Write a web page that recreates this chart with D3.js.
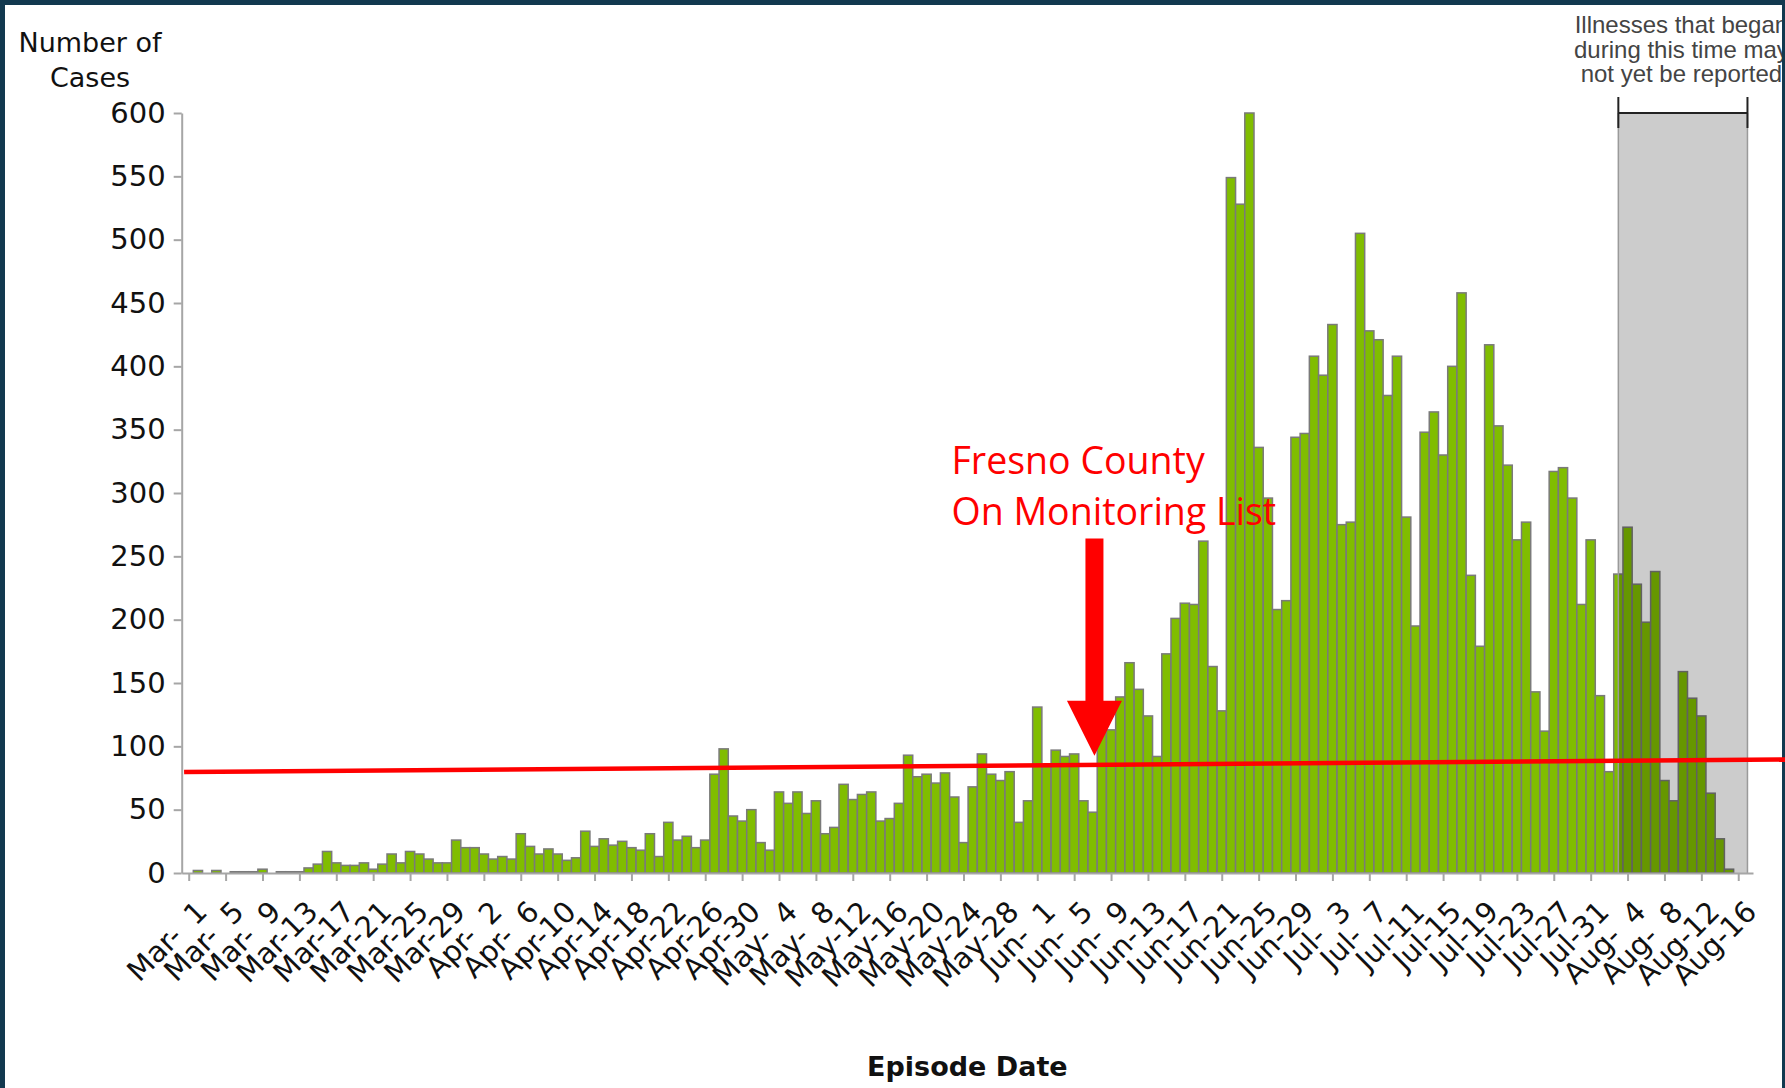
<!DOCTYPE html>
<html><head><meta charset="utf-8">
<script src="https://cdn.jsdelivr.net/npm/d3@7"></script>
<style>
body{margin:0;background:#12394f;}
svg{display:block}
</style>
</head><body>
<svg id="chart" width="1785" height="1088"></svg>
<script>
// ---- data ----
// daily case counts from Mar 1 (index 0) to Aug 17 (index 169)
const cases = [
  0,2,0,2,0,1,1,1,3,0, 1,1,1,4,7,17,8,6,6,8,
  3,7,15,8,17,15,11,8,8,26, 20,20,15,11,13,11,31,21,15,19,
  15,10,12,33,21,27,22,25,20,18, 31,13,40,26,29,20,26,78,98,45,
  41,50,24,18,64,55,64,47,57,31, 36,70,58,62,64,41,43,55,93,76,
  78,71,79,60,24,68,94,78,73,80, 40,57,131,84,97,92,94,57,48,118,
  113,139,166,145,124,92,173,201,213,212, 262,163,128,549,528,600,336,296,208,215,
  344,347,408,393,433,275,277,505,428,421, 377,408,281,195,348,364,330,400,458,235,
  179,417,353,322,263,277,143,112,317,320, 296,212,263,140,80,236,273,228,198,238,
  73,57,159,138,124,63,27,3,0,0
];
const tickDays = d3.range(0, 169, 4);
const tickLabels = [
  "Mar- 1","Mar- 5","Mar- 9","Mar-13","Mar-17","Mar-21","Mar-25","Mar-29",
  "Apr- 2","Apr- 6","Apr-10","Apr-14","Apr-18","Apr-22","Apr-26","Apr-30",
  "May- 4","May- 8","May-12","May-16","May-20","May-24","May-28",
  "Jun- 1","Jun- 5","Jun- 9","Jun-13","Jun-17","Jun-21","Jun-25","Jun-29",
  "Jul- 3","Jul- 7","Jul-11","Jul-15","Jul-19","Jul-23","Jul-27","Jul-31",
  "Aug- 4","Aug- 8","Aug-12","Aug-16"
];
const yTicks = [0,50,100,150,200,250,300,350,400,450,500,550,600];
const yTitle = ["Number of", "Cases"];
const xTitle = "Episode Date";
const pendingRange = [155, 169];           // day indices of the "not yet reported" window
const pendingNote = ["Illnesses that began", "during this time may", "not yet be reported"];
const thresholdLine = [[-0.5, 79.7], [174.5, 89.7]]; // [day, cases]
const arrowSpec = {day: 98.2, top: 264, headBase: 136, tip: 92.6};
const calloutLines = ["Fresno County", "On Monitoring List"];
const calloutPos = {day: 82.7, values: [315, 274.7]};

// ---- layout ----
const W = 1785, H = 1088;
const svg = d3.select("#chart");
const x = d3.scaleLinear().domain([-0.76, 169.6]).range([181.7, 1753]);
const y = d3.scaleLinear().domain([0, 600]).range([873, 113]);

// frame
svg.append("rect").attr("width", W).attr("height", H).attr("fill", "#12394f");
svg.append("rect").attr("x", 5).attr("y", 5).attr("width", 1777).attr("height", H - 5).attr("fill", "#ffffff");

// bars
svg.append("g").selectAll("rect")
  .data(cases.map((v, i) => ({i, v})).filter(d => d.v > 0))
  .join("rect")
  .attr("x", d => x(d.i - 0.5))
  .attr("width", d => x(d.i + 0.5) - x(d.i - 0.5))
  .attr("y", d => y(d.v))
  .attr("height", d => y(0) - y(d.v))
  .attr("fill", "#80bd00")
  .attr("stroke", "#7a7a7a")
  .attr("stroke-width", 1.5);

// pending shading
const px0 = x(pendingRange[0]), px1 = x(pendingRange[1]);
svg.append("rect").attr("x", px0).attr("y", y(600)).attr("width", px1 - px0).attr("height", y(0) - y(600))
  .attr("fill", "rgba(0,0,0,0.2)");
[px0, px1].forEach(px => svg.append("line").attr("x1", px).attr("x2", px).attr("y1", y(600)).attr("y2", y(0))
  .attr("stroke", "#9a9a9a").attr("stroke-width", 1.5));
// bracket
const bk = svg.append("g").attr("stroke", "#222").attr("stroke-width", 2);
bk.append("line").attr("x1", px0).attr("x2", px1).attr("y1", y(600)).attr("y2", y(600));
[px0, px1].forEach(px => bk.append("line").attr("x1", px).attr("x2", px).attr("y1", y(600) - 16).attr("y2", y(600) + 15));

// axes
const axisColor = "#a6a6a6";
const gx = svg.append("g").attr("transform", `translate(0,${y(0)})`)
  .call(d3.axisBottom(x).tickValues(tickDays).tickFormat((d, i) => tickLabels[i]).tickSize(8).tickSizeOuter(0));
gx.select(".domain").attr("stroke", axisColor).attr("stroke-width", 2);
gx.selectAll(".tick line").attr("stroke", axisColor).attr("stroke-width", 2);
gx.selectAll(".tick text")
  .attr("y", null).attr("x", null).attr("dy", "0.71em")
  .attr("transform", "translate(5,26) rotate(-45)")
  .style("text-anchor", "end")
  .style("white-space", "pre")
  .style("word-spacing", "0.25em")
  .attr("fill", "#111")
  .style("font-family", "'DejaVu Sans', sans-serif")
  .style("font-size", "29px");

const gy = svg.append("g").attr("transform", `translate(${x.range()[0]},0)`)
  .call(d3.axisLeft(y).tickValues(yTicks).tickSize(8).tickPadding(8).tickSizeOuter(0));
gy.select(".domain").attr("stroke", axisColor).attr("stroke-width", 2);
gy.selectAll(".tick line").attr("stroke", axisColor).attr("stroke-width", 2);
gy.selectAll(".tick text").attr("fill", "#111")
  .style("font-family", "'DejaVu Sans', sans-serif").style("font-size", "29px");

// titles
svg.append("text").attr("x", 90).attr("text-anchor", "middle")
  .style("font-family", "'DejaVu Sans', sans-serif").style("font-size", "27px").attr("fill", "#111")
  .selectAll("tspan").data(yTitle).join("tspan")
  .attr("x", 90).attr("y", (d, i) => 51.7 + i * 35).text(d => d);
svg.append("text").attr("x", (x.range()[0] + x.range()[1]) / 2).attr("y", 1076).attr("text-anchor", "middle")
  .style("font-family", "'DejaVu Sans', sans-serif").style("font-size", "27px").style("font-weight", "bold")
  .attr("fill", "#111").text(xTitle);

// pending note
svg.append("text").attr("text-anchor", "middle")
  .style("font-family", "'Liberation Sans', Arial, sans-serif").style("font-size", "24px").attr("fill", "#444")
  .selectAll("tspan").data(pendingNote).join("tspan")
  .attr("x", (px0 + px1) / 2 - 1.5).attr("y", (d, i) => 33 + i * 24.5).text(d => d);

// frame strips on top (clip overflow)
svg.append("rect").attr("x", 0).attr("y", 0).attr("width", W).attr("height", 5).attr("fill", "#12394f");
svg.append("rect").attr("x", 0).attr("y", 0).attr("width", 5).attr("height", H).attr("fill", "#12394f");
svg.append("rect").attr("x", 1782).attr("y", 0).attr("width", 3).attr("height", H).attr("fill", "#12394f");

// red threshold line
svg.append("line")
  .attr("x1", x(thresholdLine[0][0])).attr("y1", y(thresholdLine[0][1]))
  .attr("x2", x(thresholdLine[1][0])).attr("y2", y(thresholdLine[1][1]))
  .attr("stroke", "#ff0000").attr("stroke-width", 4.5);

// arrow
const cx = x(arrowSpec.day), sw = 9, hw = 27.5;
const ap = [
  [cx - sw, y(arrowSpec.top)], [cx + sw, y(arrowSpec.top)], [cx + sw, y(arrowSpec.headBase)],
  [cx + hw, y(arrowSpec.headBase)], [cx, y(arrowSpec.tip)], [cx - hw, y(arrowSpec.headBase)],
  [cx - sw, y(arrowSpec.headBase)]
];
svg.append("path").attr("d", d3.line()(ap) + "Z").attr("fill", "#ff0000");

// callout text
svg.append("g").selectAll("text").data(calloutLines).join("text")
  .attr("x", x(calloutPos.day)).attr("y", (d, i) => y(calloutPos.values[i]))
  .style("font-family", "'Open Sans', sans-serif").style("font-size", "37.5px").attr("fill", "#ff0000")
  .text(d => d);
</script>
</body></html>
